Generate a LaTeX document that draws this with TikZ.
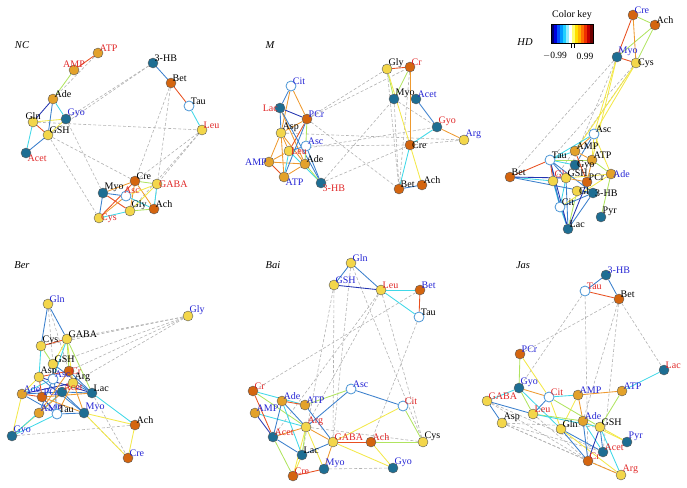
\documentclass[tikz,border=0pt]{standalone}
\usepackage{fontspec}
\setmainfont{Liberation Serif}
\usepackage{tikz}
\usetikzlibrary{backgrounds}

\definecolor{myel}{HTML}{F3D64A}
\definecolor{morg}{HTML}{E3A22B}
\definecolor{mdor}{HTML}{D4650F}
\definecolor{mteal}{HTML}{1E6E93}
\definecolor{mopen}{HTML}{4A95D5}
\definecolor{kblue}{HTML}{2424D4}
\definecolor{kred}{HTML}{E02828}
\definecolor{edbl}{HTML}{2233B0}
\definecolor{eblu}{HTML}{3A7FCC}
\definecolor{ecya}{HTML}{40D8E8}
\definecolor{egrn}{HTML}{B0E460}
\definecolor{eyel}{HTML}{F3E84A}
\definecolor{eorg}{HTML}{EE9A30}
\definecolor{ered}{HTML}{E85020}

\newcommand{\links}[2]{\foreach \a/\b in {#2} \draw[#1] (\a) -- (\b);}

\tikzset{
  met/.style={circle, minimum size=10pt, inner sep=0pt, draw=gray!70!black, line width=0.4pt},
  ny/.style={met, fill=myel},
  no/.style={met, fill=morg},
  nd/.style={met, fill=mdor},
  nt/.style={met, fill=mteal},
  nw/.style={met, fill=white, draw=mopen, line width=0.8pt},
  lb/.style={font=\fontsize{10}{11}\selectfont, inner sep=0.3pt, label distance=-3.5pt, text=black},
  lbb/.style={lb, text=kblue},
  lbr/.style={lb, text=kred},
  ttl/.style={font=\fontsize{10.5}{11}\selectfont\itshape},
  edg/.style={line width=0.85pt},
  cred/.style={edg, draw=ered},
  corg/.style={edg, draw=eorg},
  cyel/.style={edg, draw=eyel},
  cgrn/.style={edg, draw=egrn},
  ccya/.style={edg, draw=ecya},
  cblu/.style={edg, draw=eblu},
  cdbl/.style={edg, draw=edbl},
  dsh/.style={line width=0.6pt, draw=gray!60, dash pattern=on 3pt off 2pt},
}

\begin{document}
\begin{tikzpicture}[x=1pt,y=-1pt]
\useasboundingbox (0,0) rectangle (687,487);

% NC
\node[ttl] (tNC) at (22,45) {NC};
\node[no,label={[lbr]above right:ATP}] (nATP) at (98,53) {};
\node[no,label={[lbr]above:AMP}] (nAMP) at (74,70) {};
\node[no,label={[lb]above right:Ade}] (nAde) at (53,99) {};
\node[ny,label={[lb]above:Gln}] (nGln) at (33,122) {};
\node[nt,label={[lbb]above right:Gyo}] (nGyo) at (66,119) {};
\node[ny,label={[lb]above right:GSH}] (nGSH) at (48,135) {};
\node[nt,label={[lbr]below right:Acet}] (nAcet) at (26,153) {};
\node[nt,label={[lb]above right:3-HB}] (nHB) at (153,63) {};
\node[nd,label={[lb]above right:Bet}] (nBet) at (171,83) {};
\node[nw,label={[lb]above right:Tau}] (nTau) at (189,106) {};
\node[ny,label={[lbr]above right:Leu}] (nLeu) at (202,130) {};
\node[nd,label={[lb]above right:Cre}] (nCre) at (135,181) {};
\node[ny,label={[lbr]right:GABA}] (nGABA) at (157,184) {};
\node[nt,label={[lb]above right:Myo}] (nMyo) at (103,193) {};
\node[nw,label={[lbr,xshift=6pt]above:Asc}] (nAsc) at (126,196) {};
\node[ny,label={[lb]above right:Gly}] (nGly) at (130,211) {};
\node[nd,label={[lb]above right:Ach}] (nAch) at (154,209) {};
\node[ny,label={[lbr]right:Cys}] (nCys) at (99,218) {};

% M
\node[ttl] (tM) at (270,45) {M};
\node[nw,label={[lbb]above right:Cit}] (mCit) at (291,86) {};
\node[nt,label={[lbr]left:Lac}] (mLac) at (280,108) {};
\node[nd,label={[lbb]above right:PCr}] (mPCr) at (307,119) {};
\node[ny,label={[lb]above right:Asp}] (mAsp) at (281,133) {};
\node[nw,label={[lbb]above right:Asc}] (mAsc) at (306,146) {};
\node[ny,label={[lbr]right:Leu}] (mLeu) at (289,151) {};
\node[no,label={[lbb]left:AMP}] (mAMP) at (269,162) {};
\node[no,label={[lb]above right:Ade}] (mAde) at (305,164) {};
\node[no,label={[lbb]below right:ATP}] (mATP) at (284,177) {};
\node[nt,label={[lbr]below right:3-HB}] (mHB) at (321,183) {};
\node[ny,label={[lb]above right:Gly}] (mGly) at (387,69) {};
\node[nd,label={[lbr]above right:Cr}] (mCr) at (410,67) {};
\node[nt,label={[lb]above right:Myo}] (mMyo) at (394,99) {};
\node[nt,label={[lbb]above right:Acet}] (mAcet) at (416,99) {};
\node[nt,label={[lbr]above right:Gyo}] (mGyo) at (437,127) {};
\node[ny,label={[lbb]above right:Arg}] (mArg) at (464,140) {};
\node[nd,label={[lb]right:Cre}] (mCre) at (410,145) {};
\node[nd,label={[lb]above right:Bet}] (mBet) at (399,189) {};
\node[nd,label={[lb]above right:Ach}] (mAch) at (422,185) {};

% HD
\node[ttl] (tHD) at (525,42) {HD};
\node[nd,label={[lbb]above right:Cre}] (hCre) at (633,15) {};
\node[nd,label={[lb]above right:Ach}] (hAch) at (655,25) {};
\node[nt,label={[lbb]above right:Myo}] (hMyo) at (617,57) {};
\node[ny,label={[lb]right:Cys}] (hCys) at (636,63) {};
\node[nw,label={[lb]above right:Asc}] (hAsc) at (594,134) {};
\node[no,label={[lb]above right:AMP}] (hAMP) at (575,151) {};
\node[no,label={[lb]above right:ATP}] (hATP) at (592,160) {};
\node[nw,label={[lb]above right:Tau}] (hTau) at (550,160) {};
\node[no,label={[lbb]right:Ade}] (hAde) at (611,174) {};
\node[nd,label={[lb]above right:Bet}] (hBet) at (510,177) {};
\node[nt,label={[lb]right:Gyo}] (hGyo) at (575,165) {};
\node[ny,label={[lbr]above right:Gly}] (hGly) at (553,181) {};
\node[ny,label={[lb]above right:GSH}] (hGSH) at (566,178) {};
\node[nd,label={[lb]above right:PCr}] (hPCr) at (587,182) {};
\node[ny,label={[lb]right:Gln}] (hGln) at (577,191) {};
\node[nt,label={[lb]right:3-HB}] (hHB) at (593,193) {};
\node[nw,label={[lb]above right:Cit}] (hCit) at (560,207) {};
\node[nt,label={[lb]above right:Pyr}] (hPyr) at (601,217) {};
\node[nt,label={[lb]above right:Lac}] (hLac) at (568,229) {};

% colour key
\node[font=\fontsize{10}{11}\selectfont] (kTitle) at (572,15) {Color key};
\foreach \c [count=\i from 0] in {000070,0000E0,0050FF,0098FF,20D0FF,90EEFF,FFFFFF,FFFF70,FFE000,FFB000,FF7000,F03000,C00000,700000}{
  \definecolor{kbar}{HTML}{\c}
  \fill[kbar] (551+3*\i,24) rectangle (554+3*\i,43);
}
\draw[line width=0.5pt] (551,24) rectangle (593,43);
\draw[line width=0.4pt] (571,44) -- (571,48) (574,44) -- (574,48);
\node[font=\fontsize{9.5}{10}\selectfont] (kMin) at (555,56) {$-$0.99};
\node[font=\fontsize{9.5}{10}\selectfont] (kMax) at (585,56) {0.99};

% Ber
\node[ttl] (tBer) at (22,265) {Ber};
\node[ny,label={[lbb]above right:Gln}] (bGln) at (48,304) {};
\node[ny,label={[lbb]above right:Gly}] (bGly) at (188,316) {};
\node[ny,label={[lb]above right:GABA}] (bGABA) at (67,339) {};
\node[ny,label={[lb]above right:Cys}] (bCys) at (41,346) {};
\node[ny,label={[lb]above right:GSH}] (bGSH) at (53,364) {};
\node[nd,label={[lbr]right:Cr}] (bCr) at (69,371) {};
\node[ny,label={[lb]above right:Asp}] (bAsp) at (39,377) {};
\node[nw,label={[lbb]above right:Asc}] (bAsc) at (53,379) {};
\node[ny,label={[lb]above right:Arg}] (bArg) at (73,383) {};
\node[nt,label={[lb]above right:Lac}] (bLac) at (92,393) {};
\node[no,label={[lbb]above right:Ade}] (bAde) at (22,394) {};
\node[nd,label={[lbb]above right:PCr}] (bPCr) at (42,397) {};
\node[nt,label={[lbr]above right:Acet}] (bAcet) at (62,392) {};
\node[no,label={[lbb]above right:AMP}] (bAMP) at (39,413) {};
\node[nw,label={[lb]above right:Tau}] (bTau) at (57,414) {};
\node[nt,label={[lbb]above right:Myo}] (bMyo) at (84,413) {};
\node[nd,label={[lb]above right:Ach}] (bAch) at (135,425) {};
\node[nt,label={[lbb]above right:Gyo}] (bGyo) at (12,436) {};
\node[nd,label={[lbb]above right:Cre}] (bCre) at (128,458) {};

% Bai
\node[ttl] (tBai) at (273,265) {Bai};
\node[ny,label={[lbb]above right:Gln}] (iGln) at (351,263) {};
\node[ny,label={[lbb]above right:GSH}] (iGSH) at (334,285) {};
\node[ny,label={[lbr]above right:Leu}] (iLeu) at (381,290) {};
\node[nd,label={[lbb]above right:Bet}] (iBet) at (420,290) {};
\node[nw,label={[lb]above right:Tau}] (iTau) at (419,317) {};
\node[nd,label={[lbr]above right:Cr}] (iCr) at (253,391) {};
\node[nw,label={[lbb]above right:Asc}] (iAsc) at (351,389) {};
\node[no,label={[lbb]above right:Ade}] (iAde) at (282,401) {};
\node[no,label={[lbb]above right:ATP}] (iATP) at (305,405) {};
\node[no,label={[lbb]above right:AMP}] (iAMP) at (255,413) {};
\node[nw,label={[lbr]above right:Cit}] (iCit) at (403,406) {};
\node[ny,label={[lbr]above right:Arg}] (iArg) at (306,427) {};
\node[nt,label={[lbr]above right:Acet}] (iAcet) at (273,437) {};
\node[ny,label={[lbr]above right:GABA}] (iGABA) at (333,442) {};
\node[nd,label={[lbr]above right:Ach}] (iAch) at (371,442) {};
\node[ny,label={[lb]above right:Cys}] (iCys) at (423,442) {};
\node[nt,label={[lb]above right:Lac}] (iLac) at (302,455) {};
\node[nt,label={[lbb]above right:Myo}] (iMyo) at (324,469) {};
\node[nt,label={[lbb]above right:Gyo}] (iGyo) at (393,468) {};
\node[nd,label={[lbr]above right:Cre}] (iCre) at (293,476) {};

% Jas
\node[ttl] (tJas) at (523,265) {Jas};
\node[nt,label={[lbb]above right:3-HB}] (jHB) at (606,275) {};
\node[nw,label={[lbr]above right:Tau}] (jTau) at (585,291) {};
\node[nd,label={[lb]above right:Bet}] (jBet) at (619,299) {};
\node[nd,label={[lbb]above right:PCr}] (jPCr) at (520,354) {};
\node[nt,label={[lbr]above right:Lac}] (jLac) at (664,370) {};
\node[nt,label={[lbb]above right:Gyo}] (jGyo) at (519,388) {};
\node[nw,label={[lbr]above right:Cit}] (jCit) at (549,397) {};
\node[no,label={[lbb]above right:AMP}] (jAMP) at (578,395) {};
\node[no,label={[lbb]above right:ATP}] (jATP) at (622,391) {};
\node[ny,label={[lbr]above right:GABA}] (jGABA) at (487,401) {};
\node[ny,label={[lbr]above right:Leu}] (jLeu) at (533,414) {};
\node[ny,label={[lb]above right:Asp}] (jAsp) at (502,423) {};
\node[ny,label={[lb]above right:Gln}] (jGln) at (561,429) {};
\node[no,label={[lbb]above right:Ade}] (jAde) at (583,421) {};
\node[ny,label={[lb]above right:GSH}] (jGSH) at (600,427) {};
\node[nt,label={[lbb]above right:Pyr}] (jPyr) at (627,442) {};
\node[nt,label={[lbr]above right:Acet}] (jAcet) at (603,452) {};
\node[nd,label={[lbr]above right:Cr}] (jCr) at (588,461) {};
\node[ny,label={[lbr]above right:Arg}] (jArg) at (621,475) {};

\begin{pgfonlayer}{background}
% NC edges
\links{dsh}{nATP/nAde, nHB/nGyo, nHB/nGSH, nGln/nLeu, nGSH/nCre, nGSH/nCys, nGyo/nMyo, nBet/nCre, nBet/nAch, nLeu/nCre, nLeu/nGABA, nLeu/nGly}
\links{cred}{nATP/nAMP, nGln/nGSH, nBet/nTau, nMyo/nGly, nCre/nCys}
\links{corg}{nCre/nMyo, nCre/nAch, nAsc/nCys, nCre/nGly}
\links{cyel}{nGln/nGyo, nGyo/nGSH, nGABA/nGly, nAsc/nGABA}
\links{cgrn}{nAMP/nAde, nGly/nAch, nCre/nGABA}
\links{ccya}{nAde/nGyo, nGln/nAcet, nTau/nLeu, nGABA/nAch, nAsc/nAch, nCys/nGly}
\links{cblu}{nGSH/nAcet, nHB/nBet, nAde/nGSH, nMyo/nAsc, nMyo/nCys}
\links{cdbl}{nAde/nGln}
% M edges
\links{dsh}{mPCr/mGly, mPCr/mCr, mPCr/mBet, mAsp/mArg, mAsc/mCre, mHB/mMyo, mHB/mCre, mGly/mBet, mCr/mBet, mMyo/mGyo, mCre/mArg, mMyo/mBet, mLeu/mGyo}
\links{corg}{mCit/mAsp, mCit/mPCr, mPCr/mAsp, mAsp/mAMP, mAsp/mAde, mAsp/mATP, mAsp/mLeu, mAMP/mAde, mAMP/mLeu, mATP/mAde, mLac/mAde, mGyo/mArg, mCr/mCre}
\links{cred}{mAMP/mATP, mGly/mCr, mPCr/mLeu}
\links{cblu}{mCit/mLac, mLac/mAsp, mLac/mHB, mPCr/mATP, mAsc/mHB, mAcet/mGyo, mBet/mAch, mAsc/mLeu}
\links{ccya}{mATP/mLeu, mLeu/mHB, mGyo/mCre, mCre/mBet}
\links{cgrn}{mAde/mHB, mPCr/mAde, mGly/mMyo, mCr/mMyo}
\links{cyel}{mGly/mCre, mCre/mAch}
\links{cdbl}{mLac/mPCr}
% HD edges
\links{dsh}{hMyo/hBet, hCys/hTau, hCys/hGly, hMyo/hGSH}
\links{cgrn}{hCre/hAch, hAch/hCys, hAch/hMyo, hAde/hPyr, hATP/hAde, hGln/hLac, hTau/hATP}
\links{cyel}{hMyo/hAsc, hCys/hAsc, hCys/hAMP, hMyo/hATP, hAsc/hAde, hAsc/hATP, hCit/hAde, hGSH/hAde}
\links{ccya}{hTau/hAMP, hTau/hGyo, hBet/hGly, hCit/hGly, hTau/hAsc, hCit/hLac, hGSH/hCit}
\links{cblu}{hBet/hHB, hTau/hGSH, hTau/hCit, hCit/hHB, hLac/hHB, hGly/hLac, hGln/hHB, hAsc/hGyo, hLac/hGSH, hTau/hHB}
\links{cdbl}{hLac/hPCr, hTau/hLac, hBet/hGSH}
\links{corg}{hCre/hCys, hAMP/hATP, hATP/hPCr, hAsc/hAMP, hGSH/hPCr}
\links{cred}{hCre/hMyo, hMyo/hCys, hBet/hTau, hAMP/hPCr, hTau/hGly}
% Ber edges
\links{dsh}{bGly/bGABA, bGly/bCys, bGly/bGSH, bGly/bCr, bGly/bArg, bGln/bGSH, bGln/bCr, bGyo/bAch, bMyo/bCre, bLac/bCre}
\links{cyel}{bGABA/bGSH, bAde/bGyo, bMyo/bAch, bMyo/bCre, bAch/bCre, bGyo/bAMP, bGABA/bArg, bAsp/bAde}
\links{ccya}{bCys/bAsp, bLac/bAch, bGyo/bAcet, bGyo/bTau, bAde/bAsc, bGABA/bAsc}
\links{cgrn}{bGABA/bCr, bGSH/bCys, bGABA/bLac}
\links{cblu}{bGln/bCys, bGln/bGABA, bGSH/bLac, bCr/bLac, bArg/bLac, bAcet/bLac, bAde/bAcet, bAsp/bMyo, bAde/bTau, bTau/bMyo, bAcet/bMyo, bGSH/bTau, bAsc/bAMP}
\links{cdbl}{bAsp/bLac, bPCr/bTau, bAde/bArg}
\links{corg}{bPCr/bMyo, bArg/bTau, bCr/bAMP, bCr/bMyo, bPCr/bLac, bArg/bAMP}
\links{cred}{bCys/bGABA, bPCr/bAsp, bAde/bPCr, bCr/bAsp}
% Bai edges
\links{dsh}{iBet/iCr, iGSH/iGABA, iGSH/iLac, iGln/iCys, iLeu/iArg, iLeu/iAcet, iLeu/iCys, iTau/iAch, iMyo/iGyo, iArg/iCys, iGln/iGABA}
\links{cyel}{iCit/iGABA, iArg/iMyo, iArg/iCre, iAch/iGyo, iGABA/iGyo, iLac/iCre}
\links{cgrn}{iAsc/iATP, iCr/iArg, iCit/iCys, iGABA/iCys, iAcet/iCre, iArg/iLac}
\links{ccya}{iLeu/iBet, iLeu/iTau, iCr/iATP, iAMP/iArg, iAde/iLac}
\links{cblu}{iGln/iGSH, iGln/iLeu, iAsc/iCit, iAsc/iArg, iAde/iAcet, iAcet/iLac, iATP/iGABA, iLac/iGABA, iAde/iArg}
\links{cdbl}{iGSH/iLeu, iAMP/iAcet}
\links{corg}{iAcet/iArg, iMyo/iGABA, iArg/iGABA}
\links{cred}{iBet/iTau, iCr/iAcet, iGABA/iAch, iCre/iMyo, iAde/iATP}
% Jas edges
\links{dsh}{jTau/jGyo, jBet/jPCr, jBet/jLac, jTau/jCr, jBet/jAde, jBet/jAcet, jGABA/jCr, jAsp/jCr, jAsp/jArg, jLeu/jCr, jGABA/jAcet, jAsp/jGSH, jAsp/jAcet}
\links{cyel}{jPCr/jCit, jAMP/jGln, jCit/jGln, jGSH/jPyr, jAde/jPyr, jGln/jArg}
\links{cgrn}{jPCr/jGyo, jATP/jGSH, jGyo/jLeu, jCit/jGSH, jLeu/jAde}
\links{ccya}{jLac/jATP, jGyo/jGABA, jCit/jAMP, jGyo/jGln, jLeu/jGSH, jAde/jAcet, jGSH/jArg}
\links{cblu}{jHB/jTau, jHB/jBet, jGABA/jAsp, jCit/jLeu, jGln/jAcet, jGSH/jAcet, jAde/jCr, jGln/jCr, jGABA/jLeu}
\links{cdbl}{jGSH/jCr}
\links{corg}{jGyo/jCit, jAMP/jATP, jAMP/jAde, jCr/jArg}
\links{cred}{jTau/jBet}
\end{pgfonlayer}
\end{tikzpicture}
\end{document}
